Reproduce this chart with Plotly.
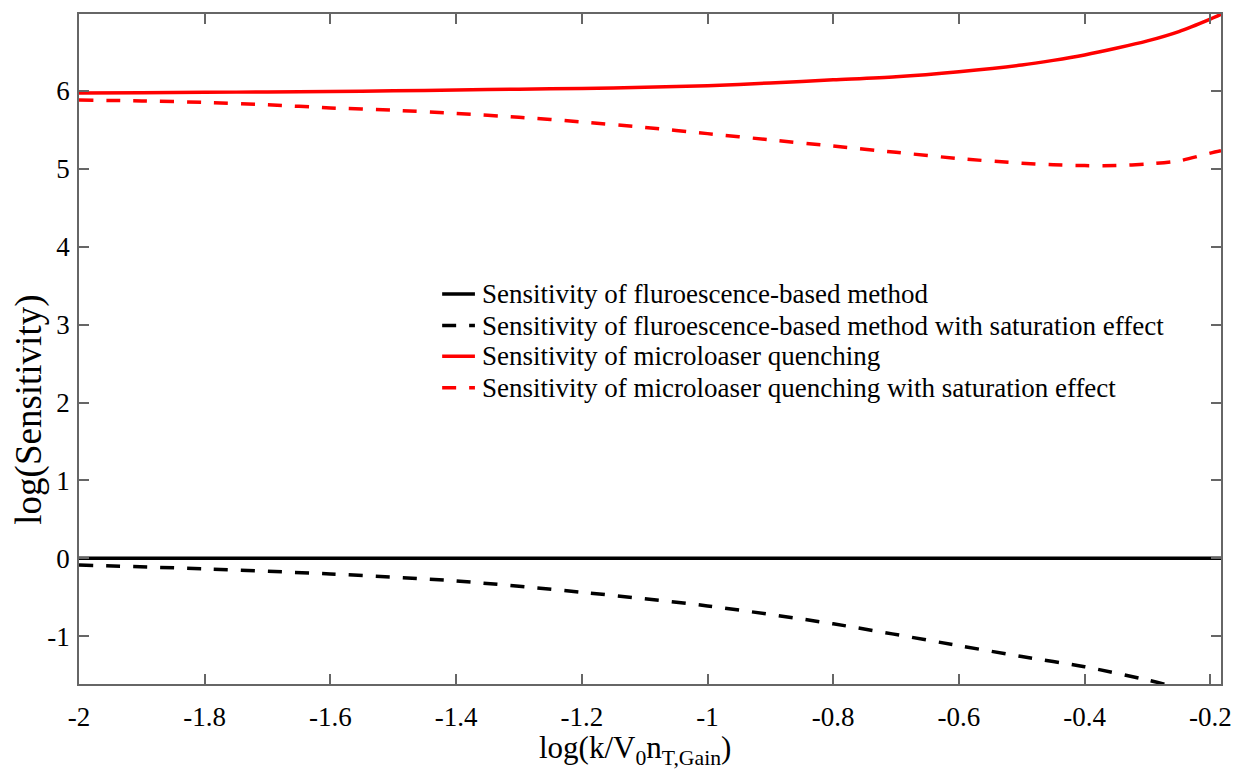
import plotly.graph_objects as go

# x values (log(k/V0 nT,Gain))
x_main = [-2.0, -1.9, -1.8, -1.7, -1.6, -1.5, -1.4, -1.3, -1.2, -1.1, -1.0, -0.9, -0.8, -0.7,
          -0.6, -0.5, -0.45, -0.4, -0.35, -0.3, -0.25, -0.2, -0.183]
x_fluo_sat = [-2.0, -1.8, -1.6, -1.4, -1.2, -1.0, -0.8, -0.6, -0.5, -0.4, -0.3, -0.27]

fluo = [0.0] * len(x_main)
fluo_sat = [-0.085, -0.135, -0.20, -0.29, -0.435, -0.61, -0.84, -1.12, -1.26, -1.39, -1.56, -1.62]
laser = [5.97, 5.975, 5.98, 5.985, 5.99, 6.0, 6.01, 6.02, 6.03, 6.045, 6.065, 6.10, 6.14, 6.18,
         6.245, 6.33, 6.39, 6.46, 6.545, 6.64, 6.76, 6.92, 6.98]
laser_sat = [5.88, 5.87, 5.85, 5.82, 5.78, 5.75, 5.71, 5.66, 5.60, 5.53, 5.45, 5.37, 5.29, 5.21,
             5.13, 5.07, 5.05, 5.04, 5.04, 5.06, 5.10, 5.20, 5.23]

names = [
    "Sensitivity of fluroescence-based method",
    "Sensitivity of fluroescence-based method with saturation effect",
    "Sensitivity of microloaser quenching",
    "Sensitivity of microloaser quenching with saturation effect",
]
colors = ["black", "black", "#ff0000", "#ff0000"]

x_ticks = [-2, -1.8, -1.6, -1.4, -1.2, -1, -0.8, -0.6, -0.4, -0.2]
x_ticklabels = ["-2", "-1.8", "-1.6", "-1.4", "-1.2", "-1", "-0.8", "-0.6", "-0.4", "-0.2"]
y_ticks = [-1, 0, 1, 2, 3, 4, 5, 6]
y_ticklabels = ["-1", "0", "1", "2", "3", "4", "5", "6"]

DASH = "14px,13px"
dashes = ["solid", DASH, "solid", DASH]
FONT = "Liberation Serif"
LW = 3.5

series_x = [x_main, x_fluo_sat, x_main, x_main]
series_y = [fluo, fluo_sat, laser, laser_sat]

fig = go.Figure()
for xs, ys, nm, c, d in zip(series_x, series_y, names, colors, dashes):
    fig.add_trace(go.Scatter(x=xs, y=ys, mode="lines", name=nm, showlegend=False,
                             line=dict(color=c, width=LW, dash=d, shape="spline", smoothing=0.8)))

# manual legend (line samples + labels), placed in paper coordinates
leg_x0, leg_x1, leg_tx = 0.318, 0.3467, 0.351
leg_rows = [0.582, 0.535, 0.489, 0.442]
for nm, c, d, yy in zip(names, colors, dashes, leg_rows):
    fig.add_shape(type="line", xref="paper", yref="paper", x0=leg_x0, x1=leg_x1, y0=yy, y1=yy,
                  line=dict(color=c, width=LW, dash=d))
    fig.add_annotation(xref="paper", yref="paper", x=leg_tx, y=yy, text=nm, showarrow=False,
                       xanchor="left", yanchor="middle",
                       font=dict(family=FONT, size=27, color="black"))

# axis titles
fig.add_annotation(xref="paper", yref="paper", x=0.487, y=-0.098,
                   text="log(k/V<sub>0</sub>n<sub>T,Gain</sub>)", showarrow=False,
                   xanchor="center", yanchor="middle",
                   font=dict(family=FONT, size=31, color="black"))
fig.add_annotation(xref="paper", yref="paper", x=-0.044, y=0.409,
                   text="log(Sensitivity)", showarrow=False, textangle=-90,
                   xanchor="center", yanchor="middle",
                   font=dict(family=FONT, size=37, color="black"))

axis_common = dict(
    showline=True, linecolor="#666666", linewidth=1.5, mirror="ticks",
    ticks="inside", ticklen=10, tickwidth=1.5, tickcolor="#666666",
    showgrid=False, zeroline=False,
    tickfont=dict(family=FONT, size=27, color="black"),
)

fig.update_layout(
    width=1244, height=770,
    margin=dict(l=79, r=14, t=12, b=86),
    paper_bgcolor="white", plot_bgcolor="white",
    font=dict(family=FONT, color="black"),
    showlegend=False,
    xaxis=dict(range=[-2, -0.183], tickvals=x_ticks, ticktext=x_ticklabels,
               ticklabelstandoff=8, **axis_common),
    yaxis=dict(range=[-1.612, 6.985], tickvals=y_ticks, ticktext=y_ticklabels,
               ticklabelstandoff=2, **axis_common),
)

fig.write_html("out.html")
